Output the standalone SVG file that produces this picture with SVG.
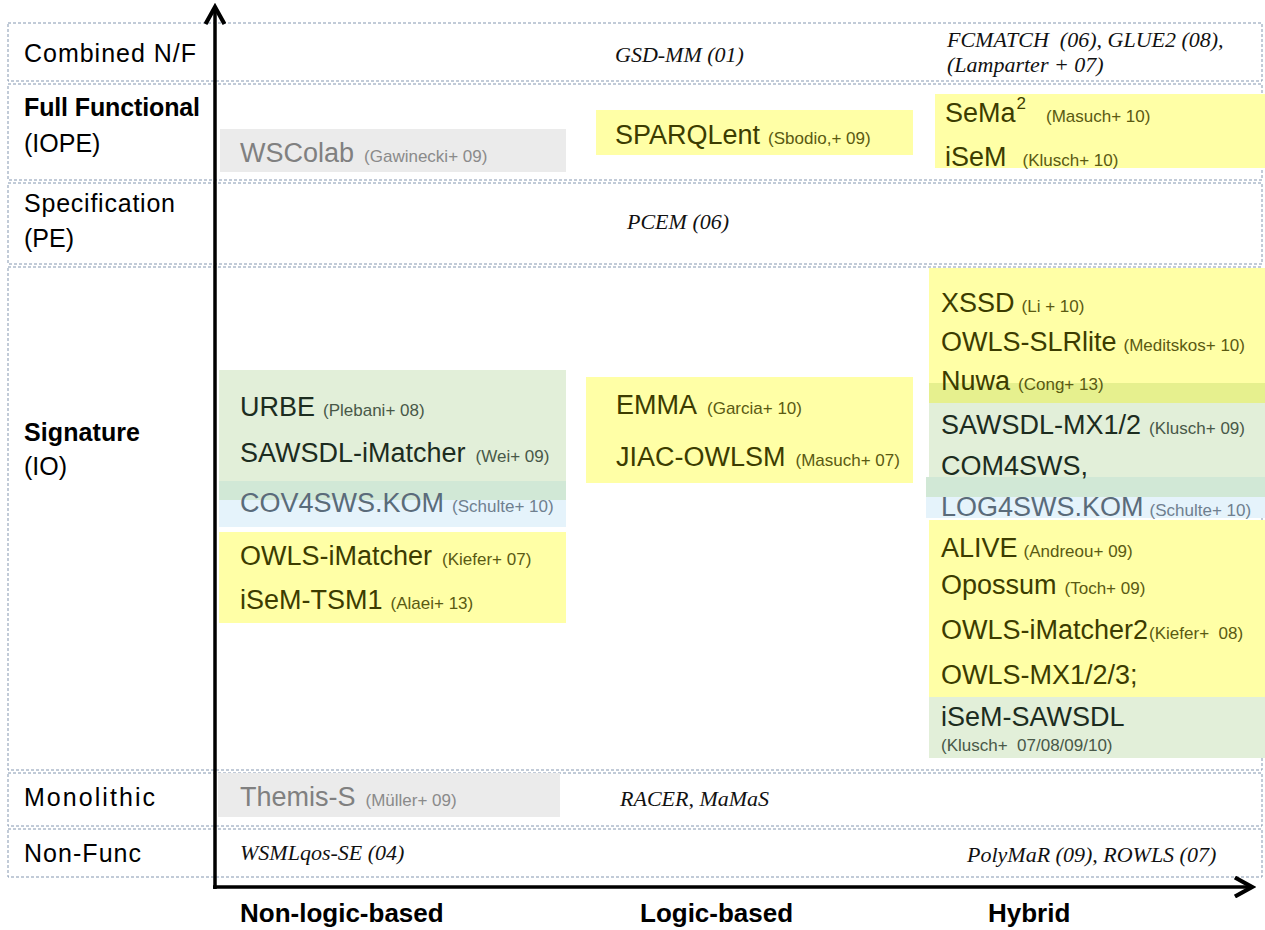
<svg xmlns="http://www.w3.org/2000/svg" width="1265" height="930" viewBox="0 0 1265 930">
<defs>
<style>
.row{fill:none;stroke:#8497b0;stroke-width:1;stroke-dasharray:3 2}
.lbl{font-family:"Liberation Sans",Arial,sans-serif;font-size:25px;fill:#000}
.ax{font-family:"Liberation Sans",Arial,sans-serif;font-size:26px;font-weight:bold;fill:#000}
.b{font-weight:bold}
.it{font-family:"Liberation Serif","Times New Roman",serif;font-style:italic;font-size:22px;fill:#111}
.nm{font-family:"Liberation Sans",Arial,sans-serif;font-size:27px}
.rf{font-size:17px}
.y{fill:#ffffa6}
.g{fill:#e2efd9}
.gr{fill:#ebebeb}
.bl{fill:#e5f3fb}
.yn{fill:#3c3c00}
.yr{fill:#5a5a12}
.gn{fill:#1c2c20}
.grn{fill:#485848}
.gy{fill:#808080}
.gyr{fill:#8a8a8a}
.bn{fill:#5a6b7a}
.br{fill:#6f7f8f}
.axis{stroke:#000;stroke-width:3.5;fill:none}
</style>
<marker id="arr" viewBox="0 0 12 12" refX="10" refY="6" markerWidth="6.5" markerHeight="6.5" markerUnits="strokeWidth" orient="auto">
<path d="M1,1 L10,6 L1,11" fill="none" stroke="#000" stroke-width="2.2"/>
</marker>
</defs>
<rect width="1265" height="930" fill="#fff"/>

<g id="rows">
<rect class="row" x="8" y="23" width="1254" height="58"/>
<rect class="row" x="8" y="84" width="1254" height="96"/>
<rect class="row" x="8" y="183" width="1254" height="81"/>
<rect class="row" x="8" y="267" width="1254" height="503"/>
<rect class="row" x="8" y="773" width="1254" height="53"/>
<rect class="row" x="8" y="829" width="1254" height="48"/>
</g>

<g id="row-labels">
<text class="lbl" x="24" y="62" textLength="172">Combined N/F</text>
<text class="lbl b" x="24" y="116" textLength="176">Full Functional</text>
<text class="lbl" x="24" y="152">(IOPE)</text>
<text class="lbl" x="24" y="212" textLength="151">Specification</text>
<text class="lbl" x="24" y="247">(PE)</text>
<text class="lbl b" x="24" y="441" textLength="116">Signature</text>
<text class="lbl" x="24" y="475">(IO)</text>
<text class="lbl" x="24" y="806" textLength="131">Monolithic</text>
<text class="lbl" x="24" y="862" textLength="117">Non-Func</text>
</g>

<g id="axis-labels">
<text class="ax" x="240" y="922">Non-logic-based</text>
<text class="ax" x="640" y="922">Logic-based</text>
<text class="ax" x="988" y="922">Hybrid</text>
</g>

<g id="italic-entries">
<text class="it" x="615" y="62">GSD-MM (01)</text>
<text class="it" x="947" y="47">FCMATCH&#160; (06), GLUE2 (08),</text>
<text class="it" x="947" y="72">(Lamparter + 07)</text>
<text class="it" x="627" y="229">PCEM (06)</text>
<text class="it" x="620" y="806">RACER, MaMaS</text>
<text class="it" x="240" y="860">WSMLqos-SE (04)</text>
<text class="it" x="967" y="862">PolyMaR (09), ROWLS (07)</text>
</g>

<g id="wscolab">
<rect class="gr" x="220" y="129" width="346" height="43"/>
<text class="nm gy" x="240" y="162">WSColab<tspan class="rf gyr" dx="10">(Gawinecki+ 09)</tspan></text>
</g>

<g id="sparqlent">
<rect class="y" x="596" y="110" width="317" height="45"/>
<text class="nm yn" x="615" y="144">SPARQLent<tspan class="rf yr" dx="8">(Sbodio,+ 09)</tspan></text>
</g>

<g id="sema-isem">
<rect class="y" x="935" y="94" width="330" height="74"/>
<text class="nm yn" x="945" y="122">SeMa<tspan class="rf" dx="1" dy="-13">2</tspan><tspan class="rf yr" dx="20" dy="13">(Masuch+ 10)</tspan></text>
<text class="nm yn" x="945" y="166">iSeM<tspan class="rf yr" dx="16">(Klusch+ 10)</tspan></text>
</g>

<g id="left-signature">
<rect class="g" x="219" y="370" width="347" height="130"/>
<rect class="bl" x="219" y="500" width="347" height="27"/>
<rect fill="#d1e8d6" x="219" y="481" width="347" height="19"/>
<rect class="y" x="219" y="532" width="347" height="91"/>
<text class="nm gn" x="240" y="416">URBE<tspan class="rf grn" dx="8">(Plebani+ 08)</tspan></text>
<text class="nm gn" x="240" y="462">SAWSDL-iMatcher<tspan class="rf grn" dx="10">(Wei+ 09)</tspan></text>
<text class="nm bn" x="240" y="512">COV4SWS.KOM<tspan class="rf br" dx="8">(Schulte+ 10)</tspan></text>
<text class="nm yn" x="240" y="565">OWLS-iMatcher<tspan class="rf yr" dx="10">(Kiefer+ 07)</tspan></text>
<text class="nm yn" x="240" y="609">iSeM-TSM1<tspan class="rf yr" dx="8">(Alaei+ 13)</tspan></text>
</g>

<g id="logic-signature">
<rect class="y" x="586" y="377" width="327" height="106"/>
<text class="nm yn" x="616" y="414">EMMA<tspan class="rf yr" dx="10">(Garcia+ 10)</tspan></text>
<text class="nm yn" x="616" y="466">JIAC-OWLSM<tspan class="rf yr" dx="10">(Masuch+ 07)</tspan></text>
</g>

<g id="hybrid-signature">
<rect class="y" x="929" y="268" width="336" height="115"/>
<rect fill="#e6f08e" x="929" y="383" width="336" height="20"/>
<rect class="g" x="929" y="403" width="336" height="74"/>
<rect fill="#d1e8d6" x="926" y="477" width="339" height="20"/>
<rect class="bl" x="926" y="497" width="339" height="21"/>
<rect class="y" x="929" y="520" width="336" height="177"/>
<rect class="g" x="929" y="697" width="336" height="61"/>
<text class="nm yn" x="941" y="312">XSSD<tspan class="rf yr" dx="7">(Li + 10)</tspan></text>
<text class="nm yn" x="941" y="351">OWLS-SLRlite<tspan class="rf yr" dx="7">(Meditskos+ 10)</tspan></text>
<text class="nm yn" x="941" y="390">Nuwa<tspan class="rf yr" dx="8">(Cong+ 13)</tspan></text>
<text class="nm gn" x="941" y="434">SAWSDL-MX1/2<tspan class="rf grn" dx="8">(Klusch+ 09)</tspan></text>
<text class="nm gn" x="941" y="475">COM4SWS,</text>
<text class="nm bn" x="941" y="516">LOG4SWS.KOM<tspan class="rf br" dx="6">(Schulte+ 10)</tspan></text>
<text class="nm yn" x="941" y="557">ALIVE<tspan class="rf yr" dx="6">(Andreou+ 09)</tspan></text>
<text class="nm yn" x="941" y="594">Opossum<tspan class="rf yr" dx="8">(Toch+ 09)</tspan></text>
<text class="nm yn" x="941" y="639">OWLS-iMatcher2<tspan class="rf yr" dx="1">(Kiefer+&#160; 08)</tspan></text>
<text class="nm yn" x="941" y="684">OWLS-MX1/2/3;</text>
<text class="nm gn" x="941" y="726">iSeM-SAWSDL</text>
<text class="nm rf grn" x="941" y="751">(Klusch+&#160; 07/08/09/10)</text>
</g>

<g id="themis">
<rect class="gr" x="218" y="773" width="342" height="44"/>
<text class="nm gy" x="240" y="806">Themis-S<tspan class="rf gyr" dx="10">(Müller+ 09)</tspan></text>
</g>

<g id="connectors">
<path class="axis" d="M215,889 L215,7" marker-end="url(#arr)"/>
<path class="axis" d="M213,887 L1252,887" marker-end="url(#arr)"/>
</g>
</svg>
